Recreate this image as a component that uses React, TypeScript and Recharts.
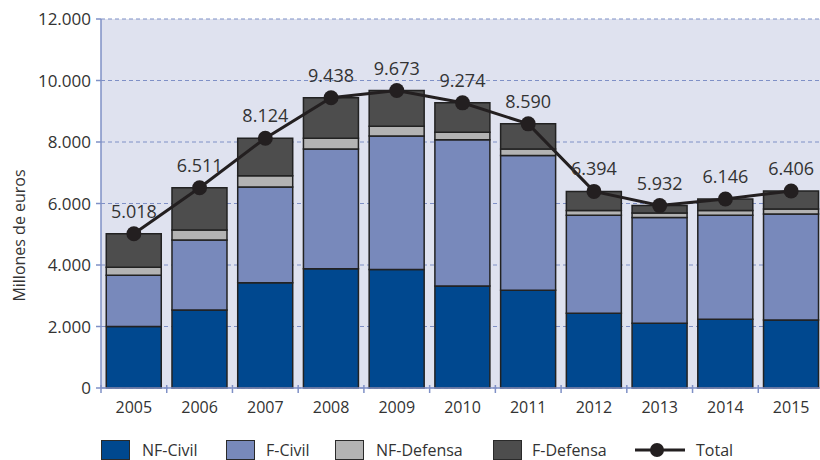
import React from 'react';
import { ComposedChart, Bar, Line, XAxis, YAxis, CartesianGrid, LabelList, Label } from 'recharts';

const years = ['2005', '2006', '2007', '2008', '2009', '2010', '2011', '2012', '2013', '2014', '2015'];
const nfCivil = [2000, 2540, 3420, 3875, 3855, 3320, 3180, 2430, 2105, 2235, 2215];
const fCivil = [1670, 2270, 3115, 3895, 4340, 4755, 4385, 3190, 3440, 3385, 3440];
const nfDefensa = [260, 325, 370, 350, 315, 240, 205, 155, 150, 155, 165];
const total = [5018, 6511, 8124, 9438, 9673, 9274, 8590, 6394, 5932, 6146, 6406];
const yTicks = [0, 2000, 4000, 6000, 8000, 10000, 12000];

const data = years.map((y, i) => ({
  year: y,
  nfCivil: nfCivil[i],
  fCivil: fCivil[i],
  nfDefensa: nfDefensa[i],
  fDefensa: total[i] - nfCivil[i] - fCivil[i] - nfDefensa[i],
  total: total[i],
}));

const fmt = (v: number) => String(v).replace(/\B(?=(\d{3})+(?!\d))/g, '.');

const FONT = '"Open Sans", "Noto Sans", sans-serif';
const TEXT = '#333333';
const AXIS = '#7f90c6';
const BAND = (826 - 2 - 101) / 11;

const XTick = (props: any) => {
  const { x, y, payload } = props;
  return (
    <g>
      <line x1={x - BAND / 2} x2={x - BAND / 2} y1={y - 11} y2={y - 3} stroke={AXIS} strokeWidth={1.5} />
      <text x={x} y={y + 17} textAnchor="middle" fill={TEXT} fontSize={16} fontFamily={FONT}>
        {payload.value}
      </text>
    </g>
  );
};

const YLabel = (props: any) => {
  const vb = props.viewBox || {};
  const cx = 19;
  const cy = (vb.y || 0) + (vb.height || 0) / 2 + 32;
  return (
    <text x={cx} y={cy} transform={`rotate(-90 ${cx} ${cy})`} textAnchor="middle" dominantBaseline="central" fill={TEXT} fontSize={16} fontFamily={FONT}>
      Millones de euros
    </text>
  );
};

const legendItems = [
  { label: 'NF-Civil', color: '#00488f', sq: 101, tx: 142 },
  { label: 'F-Civil', color: '#7889bb', sq: 226, tx: 266 },
  { label: 'NF-Defensa', color: '#b3b3b3', sq: 335, tx: 376 },
  { label: 'F-Defensa', color: '#4d4d4d', sq: 493, tx: 532 },
];

const LegendBox = () => (
  <div style={{ position: 'absolute', left: 0, top: 438, width: 820, height: 24, fontFamily: FONT, fontSize: 16, color: TEXT }}>
    {legendItems.map((it) => (
      <React.Fragment key={it.label}>
        <div style={{ position: 'absolute', left: it.sq, top: 2, width: 29, height: 20, background: it.color, border: '1.5px solid #2a2a2a', boxSizing: 'border-box' }} />
        <div style={{ position: 'absolute', left: it.tx, top: 0, lineHeight: '24px', whiteSpace: 'nowrap' }}>{it.label}</div>
      </React.Fragment>
    ))}
    <svg style={{ position: 'absolute', left: 634, top: 0 }} width={52} height={24}>
      <line x1={1} x2={51} y1={12} y2={12} stroke="#231f20" strokeWidth={3} />
      <circle cx={23} cy={12} r={7} fill="#231f20" />
    </svg>
    <div style={{ position: 'absolute', left: 696, top: 0, lineHeight: '24px' }}>Total</div>
  </div>
);

export default function App() {
  return (
    <div style={{ position: 'fixed', left: 0, top: 0, width: 820, height: 460, overflow: 'hidden', background: '#fff' }}>
      <ComposedChart
        width={826}
        height={460}
        data={data}
        margin={{ top: 19, right: 2, bottom: 0, left: 0 }}
        barCategoryGap="8%"
      >
        <CartesianGrid vertical={false} stroke={AXIS} strokeDasharray="4 3" fill="#dfe2ef" />
        <XAxis
          dataKey="year"
          axisLine={{ stroke: AXIS, strokeWidth: 1.5 }}
          tickLine={false}
          tick={<XTick />}
          interval={0}
          height={72}
        />
        <YAxis
          width={101}
          domain={[0, 12000]}
          ticks={yTicks}
          interval={0}
          tickFormatter={fmt}
          axisLine={{ stroke: AXIS, strokeWidth: 1.5 }}
          tickLine={{ stroke: AXIS, strokeWidth: 1.5 }}
          tickSize={5}
          tickMargin={5}
          tick={{ fill: TEXT, fontSize: 17, fontFamily: FONT }}
        >
          <Label content={<YLabel />} />
        </YAxis>
        <Bar dataKey="nfCivil" stackId="a" fill="#00488f" stroke="#222" strokeWidth={1.5} isAnimationActive={false} />
        <Bar dataKey="fCivil" stackId="a" fill="#7889bb" stroke="#222" strokeWidth={1.5} isAnimationActive={false} />
        <Bar dataKey="nfDefensa" stackId="a" fill="#b3b3b3" stroke="#222" strokeWidth={1.5} isAnimationActive={false} />
        <Bar dataKey="fDefensa" stackId="a" fill="#4d4d4d" stroke="#222" strokeWidth={1.5} isAnimationActive={false} />
        <Line
          dataKey="total"
          type="linear"
          stroke="#231f20"
          strokeWidth={3}
          dot={{ r: 7.5, fill: '#231f20', stroke: '#231f20', strokeWidth: 0 }}
          isAnimationActive={false}
        >
          <LabelList dataKey="total" position="top" offset={16} formatter={(v: any) => fmt(v)} fill={TEXT} fontSize={18} fontFamily={FONT} />
        </Line>
      </ComposedChart>
      <LegendBox />
    </div>
  );
}
